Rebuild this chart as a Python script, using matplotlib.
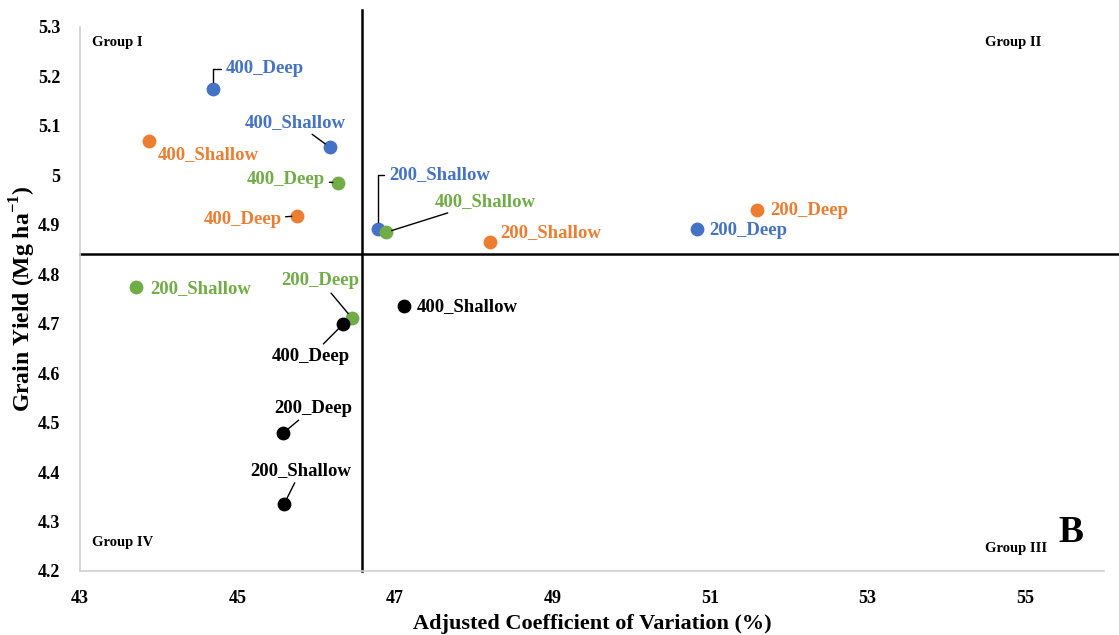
import matplotlib.pyplot as plt

plt.rcParams['font.family'] = ['Liberation Serif', 'DejaVu Serif']
plt.rcParams['font.weight'] = 'bold'
plt.rcParams['mathtext.fontset'] = 'custom'
plt.rcParams['mathtext.rm'] = 'Liberation Serif:bold'
plt.rcParams['mathtext.bf'] = 'Liberation Serif:bold'

# adjusted CV (%) and grain yield (Mg/ha) for each treatment, one colour per series
names = ['400_Deep', '400_Shallow', '200_Shallow', '200_Deep']
blue_cv = [44.69, 46.17, 46.78, 50.83]
blue_yield = [5.175, 5.057, 4.892, 4.892]

orange_names = ['400_Shallow', '400_Deep', '200_Shallow', '200_Deep']
orange_cv = [43.88, 45.76, 48.21, 51.60]
orange_yield = [5.069, 4.918, 4.865, 4.930]

green_names = ['400_Deep', '400_Shallow', '200_Shallow', '200_Deep']
green_cv = [46.28, 46.89, 43.71, 46.45]
green_yield = [4.985, 4.885, 4.774, 4.712]

black_names = ['400_Shallow', '400_Deep', '200_Deep', '200_Shallow']
black_cv = [47.11, 46.34, 45.58, 45.59]
black_yield = [4.736, 4.699, 4.479, 4.335]

# quadrant split lines
cv_split = 46.58
yield_split = 4.841

# label offsets in pixels (dx, dy), alignment, leader style
blue_lbl = [(13, 20, 'left', 'elbow'), (-34, 25, 'center', 'line'),
            (12, 54, 'left', 'elbow'), (13, -2, 'left', None)]
orange_lbl = [(8, -13, 'left', None), (-16, -4, 'right', 'line'),
              (10, 10, 'left', None), (13, -1, 'left', None)]
green_lbl = [(-13, 3, 'right', 'line'), (48, 31, 'left', 'line'),
             (14, -1, 'left', None), (-31, 37, 'center', 'line')]
black_lbl = [(13, -1, 'left', None), (-32, -32, 'center', 'line'),
             (30, 25, 'center', 'line'), (17, 34, 'center', 'line')]

fig = plt.figure(figsize=(11.19, 6.35), dpi=100)
ax = fig.add_axes([0.0715, 0.1008, 0.915, 0.8567])


def draw_series(xs, ys, labels, color, layout):
    ax.scatter(xs, ys, s=80, color=color, zorder=3)
    for x, y, lab, (dx, dy, ha, leader) in zip(xs, ys, labels, layout):
        props = None
        if leader == 'elbow':
            props = dict(arrowstyle='-', color='black', lw=1,
                         connectionstyle='angle,angleA=0,angleB=90,rad=0',
                         shrinkA=2, shrinkB=5)
        elif leader == 'line':
            props = dict(arrowstyle='-', color='black', lw=1, shrinkA=1, shrinkB=4)
        ax.annotate(lab, xy=(x, y), xytext=(dx * 0.72, dy * 0.72),
                    textcoords='offset points', ha=ha, va='center',
                    fontsize=13.5, fontweight='bold', color=color,
                    arrowprops=props, zorder=4)


draw_series(blue_cv, blue_yield, names, '#4472C4', blue_lbl)
draw_series(orange_cv, orange_yield, orange_names, '#ED7D31', orange_lbl)
draw_series(green_cv, green_yield, green_names, '#70AD47', green_lbl)
draw_series(black_cv, black_yield, black_names, 'black', black_lbl)

ax.plot([cv_split, cv_split], [4.2, 5.334], color='black', lw=1.8, clip_on=False, zorder=2)
ax.plot([43, 56.2], [yield_split, yield_split], color='black', lw=1.8, clip_on=False, zorder=2)

ax.set_xlim(43, 56)
ax.set_ylim(4.2, 5.3)
ax.set_xticks([43, 45, 47, 49, 51, 53, 55])
ax.set_yticks([4.2, 4.3, 4.4, 4.5, 4.6, 4.7, 4.8, 4.9, 5.0, 5.1, 5.2, 5.3])
ax.set_yticklabels(['4.2', '4.3', '4.4', '4.5', '4.6', '4.7', '4.8', '4.9', '5',
                    '5.1', '5.2', '5.3'])
ax.tick_params(length=0, labelsize=13, pad=14)
for lab in ax.get_xticklabels() + ax.get_yticklabels():
    lab.set_fontweight('bold')

for side in ['top', 'right']:
    ax.spines[side].set_visible(False)
for side in ['left', 'bottom']:
    ax.spines[side].set_color('#d0d0d0')
    ax.spines[side].set_linewidth(1.2)

ax.set_xlabel('Adjusted Coefficient of Variation (%)', fontsize=16, fontweight='bold', labelpad=5)
ax.set_ylabel('Grain Yield (Mg ha$^{\\mathrm{-1}}$)', fontsize=17, fontweight='bold', labelpad=0)

ax.text(0.012, 0.972, 'Group I', transform=ax.transAxes, fontsize=10.5, va='center')
ax.text(0.884, 0.972, 'Group II', transform=ax.transAxes, fontsize=10.5, va='center')
ax.text(0.012, 0.053, 'Group IV', transform=ax.transAxes, fontsize=10.5, va='center')
ax.text(0.884, 0.042, 'Group III', transform=ax.transAxes, fontsize=10.5, va='center')
ax.text(0.956, 0.07, 'B', transform=ax.transAxes, fontsize=27, va='center')

fig.savefig('out.png', dpi=100)
